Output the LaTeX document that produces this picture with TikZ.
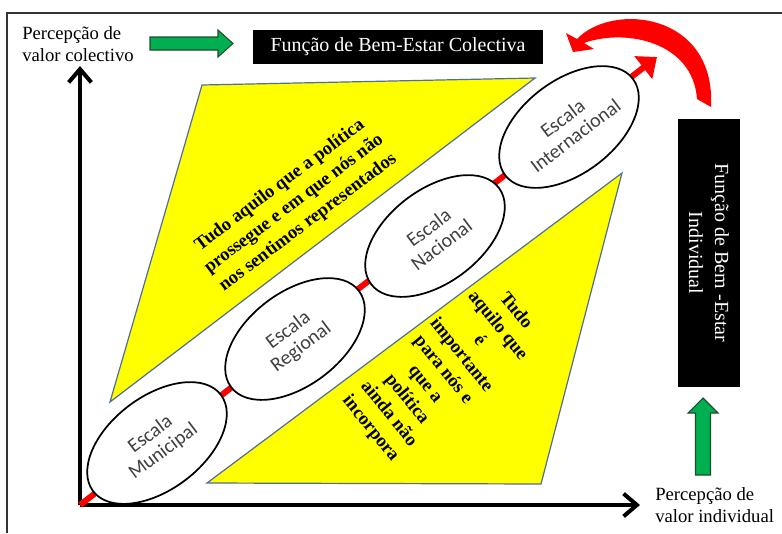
\documentclass[tikz,border=0pt]{standalone}
\usepackage{fontspec}
\setmainfont{Liberation Serif}
\newfontfamily\calibri{Carlito}
\usetikzlibrary{arrows.meta,shapes.geometric}
\definecolor{zonefill}{HTML}{FFFF00}
\definecolor{zoneedge}{HTML}{4F6E9A}
\definecolor{greenfill}{HTML}{00B050}
\definecolor{greenedge}{HTML}{1E4D2B}
\definecolor{redarrow}{HTML}{FF0000}
\definecolor{scaletext}{HTML}{404040}
\definecolor{framecol}{HTML}{333333}

\begin{document}
\begin{tikzpicture}[x=0.75pt,y=-0.75pt,
  zone/.style={fill=zonefill,draw=zoneedge,line width=0.9pt},
  scalebox/.style={ellipse,draw=black,fill=white,line width=1.3pt,
    minimum width=120pt,minimum height=70pt,inner sep=0pt,rotate=37,
    align=center,text=scaletext,font=\calibri\fontsize{15}{16}\selectfont},
  zonetext/.style={align=center,inner sep=0pt,
    font=\rmfamily\bfseries\fontsize{14}{17.5}\selectfont},
  darkbox/.style={fill=black,text=white,inner sep=0pt,align=center,
    font=\rmfamily\fontsize{15}{19.5}\selectfont},
  axislabel/.style={anchor=west,align=left,inner sep=0pt,
    font=\rmfamily\fontsize{14}{16.5}\selectfont},
  axisline/.style={line width=3pt,-{Straight Barb[length=10pt,width=17pt]}},
  garrow/.style={fill=greenfill,draw=greenedge,line width=0.8pt,line join=miter},
]
\useasboundingbox (0,0) rectangle (782,533);

% outer frame (top and left edges)
\draw[line width=1.5pt,framecol] (7,533) -- (7,13) -- (782,13);

% shaded zones
\draw[zone] (202,85) -- (535,78) -- (110,402) -- cycle;
\draw[zone] (207,483) -- (622,173) -- (541,484) -- cycle;

% axes
\coordinate (o) at (80,505);
\coordinate (yend) at (80,66);
\coordinate (xend) at (640,505);
\coordinate (tip) at (657,57);
\draw[axisline] (o) -- (yend);
\draw[axisline] (o) -- (xend);

% diagonal scale line
\draw[redarrow,line width=4.5pt,-{Triangle[width=21pt,length=13pt]}] (o) -- (tip);

% scales
\node[scalebox] (mun) at (157,443) {Escala\\Municipal};
\node[scalebox] (reg) at (295,339) {Escala\\Regional};
\node[scalebox] (nac) at (435,236) {Escala\\Nacional};
\node[scalebox] (int) at (569,127) {Escala\\Internacional};

% zone texts
\node[zonetext,rotate=37] (uptext) at (294,204)
  {Tudo aquilo que a política\\prossegue e em que nós não\\nos sentimos representados};
\node[zonetext,rotate=-51] (lowtext) at (443,370)
  {Tudo\\aquilo que\\é\\importante\\para nós e\\que a\\política\\ainda não\\incorpora};

% welfare functions
\node[darkbox,minimum width=217.5pt,minimum height=25.5pt] (colbox) at (398,47)
  {Função de Bem-Estar Colectiva};
\node[darkbox,rotate=-90,minimum width=201pt,minimum height=46.5pt] (indbox) at (709,253)
  {Função de Bem -Estar\\Individual};

% axis labels
\node[axislabel] (ylab) at (22,44) {Percepção de\\valor colectivo};
\node[axislabel] (xlab) at (655,505) {Percepção de\\valor individual};

% green block arrows
\draw[garrow] (150,37) -- (218,37) -- (218,30) -- (233,43.5) -- (218,57)
  -- (218,50) -- (150,50) -- cycle;
\draw[garrow] (695.5,475) -- (695.5,413) -- (688,413) -- (703,398)
  -- (718,413) -- (710.5,413) -- (710.5,475) -- cycle;

% curved red arrow from individual to collective
\fill[redarrow] (577,39) .. controls (612,2) and (716,12) .. (711,107)
  -- (697,99) .. controls (693,42) and (626,28) .. (584,43)
  -- (594,49) -- (573,52) -- (566,33) -- cycle;
\end{tikzpicture}
\end{document}
